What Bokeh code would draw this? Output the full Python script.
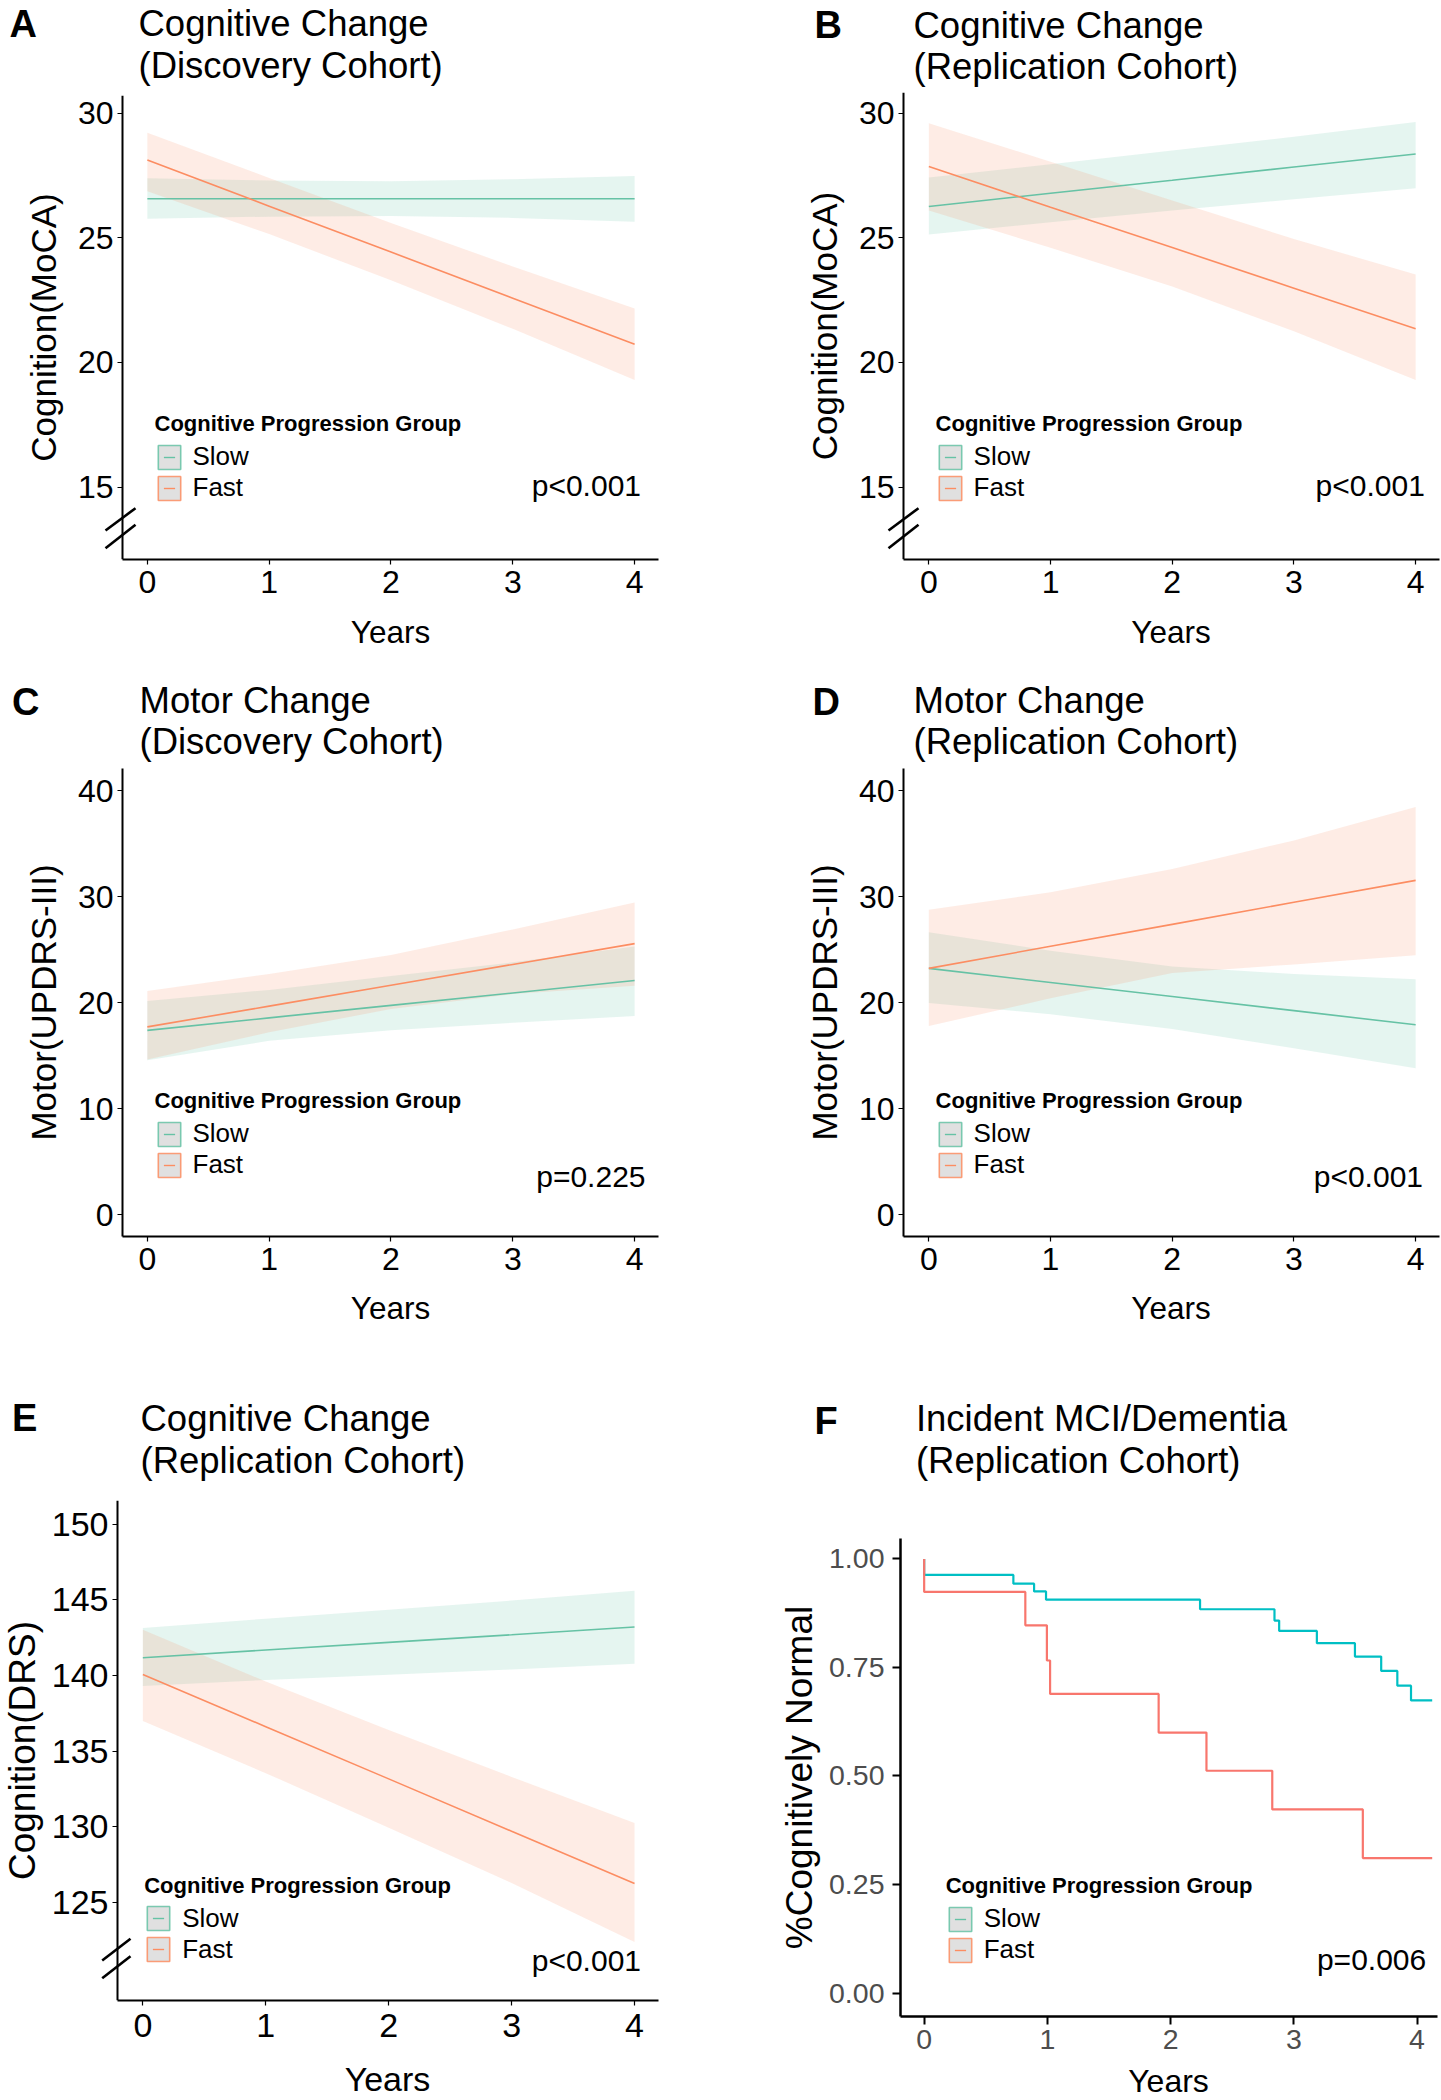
import math
from bokeh.plotting import figure
from bokeh.models import (Range1d, FixedTicker, Label, Legend, LegendItem, Arrow,
                          NumeralTickFormatter)
from bokeh.layouts import row, column
from bokeh.embed import file_html
from bokeh.resources import INLINE

FONT = "Liberation Sans"
SLOW = "#66C2A5"
FAST = "#FC8D62"
KM_SLOW = "#00BFC4"
KM_FAST = "#F8766D"
NAN = float("nan")

# ---------------- data ----------------
years = [0, 1, 2, 3, 4]
x_ticks = [0, 1, 2, 3, 4]
groups = ["Slow", "Fast"]

# A: MoCA, discovery
A_slow = [26.57, 26.57, 26.57, 26.57, 26.57]
A_slow_lo = [25.77, 25.85, 25.88, 25.80, 25.65]
A_slow_hi = [27.39, 27.30, 27.27, 27.35, 27.48]
A_fast = [28.12, 26.27, 24.43, 22.58, 20.73]
A_fast_lo = [26.87, 25.15, 23.30, 21.35, 19.30]
A_fast_hi = [29.22, 27.40, 25.60, 23.85, 22.17]

# B: MoCA, replication
B_slow = [26.26, 26.79, 27.31, 27.84, 28.36]
B_slow_lo = [25.13, 25.63, 26.10, 26.55, 26.99]
B_slow_hi = [27.42, 27.95, 28.50, 29.05, 29.65]
B_fast = [27.86, 26.23, 24.61, 22.98, 21.35]
B_fast_lo = [26.10, 24.60, 23.05, 21.25, 19.30]
B_fast_hi = [29.60, 28.05, 26.50, 24.95, 23.53]

# C: UPDRS-III, discovery
C_slow = [17.38, 18.56, 19.74, 20.91, 22.09]
C_slow_lo = [14.56, 16.40, 17.40, 18.10, 18.73]
C_slow_hi = [20.16, 21.20, 22.50, 23.80, 25.28]
C_fast = [17.71, 19.67, 21.64, 23.60, 25.56]
C_fast_lo = [14.64, 17.20, 19.40, 20.80, 21.60]
C_fast_hi = [21.10, 22.70, 24.50, 26.90, 29.45]

# D: UPDRS-III, replication
D_slow = [23.23, 21.90, 20.57, 19.24, 17.91]
D_slow_lo = [19.96, 18.90, 17.50, 15.70, 13.82]
D_slow_hi = [26.63, 24.90, 23.40, 22.70, 22.21]
D_fast = [23.23, 25.31, 27.38, 29.46, 31.53]
D_fast_lo = [17.79, 20.40, 22.80, 23.60, 24.46]
D_fast_hi = [28.75, 30.40, 32.60, 35.30, 38.45]

# E: DRS, replication
E_slow = [141.17, 141.68, 142.19, 142.69, 143.20]
E_slow_lo = [139.30, 139.70, 140.05, 140.40, 140.77]
E_slow_hi = [143.14, 143.75, 144.35, 144.95, 145.60]
E_fast = [140.07, 136.62, 133.17, 129.71, 126.26]
E_fast_lo = [137.00, 133.55, 129.95, 126.30, 122.39]
E_fast_hi = [143.02, 139.60, 136.40, 133.30, 130.26]

# F: Kaplan-Meier, incident MCI/dementia
F_slow_t = [0.0, 0.0, 0.724, 0.892, 0.989, 2.239, 2.843, 2.881, 3.187, 3.496, 3.709, 3.840, 3.951, 4.123]
F_slow_s = [1.0, 0.963, 0.943, 0.925, 0.906, 0.884, 0.858, 0.834, 0.806, 0.775, 0.742, 0.708, 0.674, 0.674]
F_fast_t = [0.0, 0.0, 0.821, 0.996, 1.022, 1.903, 2.291, 2.825, 3.560, 4.123]
F_fast_s = [1.0, 0.924, 0.847, 0.766, 0.689, 0.600, 0.512, 0.423, 0.311, 0.311]

yticks_moca = [15, 20, 25, 30]
yticks_updrs = [0, 10, 20, 30, 40]
yticks_drs = [125, 130, 135, 140, 145, 150]
yticks_km = [0, 0.25, 0.5, 0.75, 1.0]


# ---------------- helpers ----------------
def make_fig(ox, oy, w, h, L, R, T, B, xr, yr, yticks, tick_fs, ylabel, ylabel_fs, ylabel_sd,
             tick_color="black", tick_out=5, tick_w=1.2, axis_w=2.0,
             x_standoff=6, y_standoff=4, yfmt=None, yaxis_at=None):
    p = figure(width=w, height=h, x_range=Range1d(*xr), y_range=Range1d(*yr),
               output_backend="svg", toolbar_location=None, title=None,
               min_border_left=L - ox, min_border_right=ox + w - R,
               min_border_top=T - oy, min_border_bottom=oy + h - B)
    p.outline_line_color = None
    p.xgrid.visible = False
    p.ygrid.visible = False
    p.background_fill_color = "white"
    p.border_fill_color = "white"
    p.xaxis.ticker = FixedTicker(ticks=x_ticks)
    p.yaxis.ticker = FixedTicker(ticks=yticks)
    if yfmt is not None:
        p.yaxis.formatter = yfmt
    if yaxis_at is not None:
        p.yaxis.fixed_location = yaxis_at
        p.xaxis.bounds = (yaxis_at, xr[1])
    for ax in (p.xaxis[0], p.yaxis[0]):
        ax.axis_line_width = axis_w
        ax.axis_line_color = "black"
        ax.major_tick_line_color = "black"
        ax.major_tick_line_width = tick_w
        ax.major_tick_out = tick_out
        ax.major_tick_in = 0
        ax.minor_tick_line_color = None
        ax.major_label_text_font = FONT
        ax.major_label_text_font_size = f"{tick_fs}px"
        ax.major_label_text_color = tick_color
        ax.axis_label_text_font = FONT
        ax.axis_label_text_font_style = "normal"
        ax.axis_label_text_color = "black"
    p.xaxis.major_label_standoff = x_standoff
    p.yaxis.major_label_standoff = y_standoff
    p.yaxis.axis_label = ylabel
    p.yaxis.axis_label_text_font_size = f"{ylabel_fs}px"
    p.yaxis.axis_label_standoff = ylabel_sd
    return p


def strip(ox, oy, w, h, items):
    """A bare strip of the page that carries panel letters, titles or axis titles."""
    hf = figure(width=w, height=h, x_range=Range1d(0, w), y_range=Range1d(0, h),
                x_axis_type=None, y_axis_type=None, output_backend="svg",
                toolbar_location=None, title=None, min_border=0)
    hf.outline_line_color = None
    hf.grid.visible = False
    hf.background_fill_color = "white"
    hf.border_fill_color = "white"
    for (rx, ry, text, size, style, align) in items:
        hf.add_layout(Label(x=rx - ox, y=oy + h - ry, x_units="screen", y_units="screen",
                            text=text, text_font=FONT, text_font_size=f"{size}px",
                            text_font_style=style, text_align=align,
                            text_baseline="middle", text_color="black"))
    return hf


def txt(p, L, B, rx, ry, text, size, align="left"):
    p.add_layout(Label(x=rx - L, y=B - ry, x_units="screen", y_units="screen", text=text,
                       text_font=FONT, text_font_size=f"{size}px", text_align=align,
                       text_baseline="middle", text_color="black"))


def axis_break(p, L, B, segs):
    for (x0, y0, x1, y1) in segs:
        p.add_layout(Arrow(end=None, x_start=x0 - L, y_start=B - y0, x_end=x1 - L, y_end=B - y1,
                           start_units="screen", end_units="screen",
                           line_width=2.6, line_color="black"))


def add_legend(p, lx, ly):
    items = []
    for lab, col in zip(groups, (SLOW, FAST)):
        box = p.rect(x=[NAN], y=[NAN], width=1, height=1, fill_color="#E0E0E0",
                     line_color=col, line_width=1.6, line_alpha=0.85)
        dash = p.scatter(x=[NAN], y=[NAN], marker="dash", line_color=col, line_width=1.4)
        items.append(LegendItem(label=lab, renderers=[box, dash]))
    leg = Legend(items=items, location=(lx, ly), title="Cognitive Progression Group",
                 title_text_font=FONT, title_text_font_style="bold", title_text_color="black",
                 title_text_font_size="22px", title_standoff=4,
                 label_text_font=FONT, label_text_font_size="26px", label_text_color="black",
                 glyph_width=28, glyph_height=30, spacing=0, padding=0, margin=0,
                 label_standoff=10, border_line_color=None, background_fill_alpha=0)
    p.add_layout(leg)


def trend(p, lo_s, hi_s, v_s, lo_f, hi_f, v_f):
    p.varea(x=years, y1=lo_s, y2=hi_s, fill_color=SLOW, fill_alpha=0.17)
    p.varea(x=years, y1=lo_f, y2=hi_f, fill_color=FAST, fill_alpha=0.17)
    p.line(years, v_s, line_color=SLOW, line_width=1.6)
    p.line(years, v_f, line_color=FAST, line_width=1.6)


def heading(ox, oy, w, h, letter, lx, ly, tx, t1, t1y, t2, t2y):
    return strip(ox, oy, w, h, [(lx, ly, letter, 38, "bold", "left"),
                                (tx, t1y, t1, 36.5, "normal", "left"),
                                (tx, t2y, t2, 36.5, "normal", "left")])


def stack(*items):
    # every child wrapped on its own, so that frames are not aligned with each other
    return column(*[column(it) for it in items])


# ---------------- headings ----------------
hA = heading(0, 0, 720, 88, "A", 9, 23, 138, "Cognitive Change", 23.2, "(Discovery Cohort)", 65)
hB = heading(720, 0, 720, 88, "B", 814, 24, 913, "Cognitive Change", 24.5, "(Replication Cohort)", 66)
hC = heading(0, 665, 720, 97, "C", 11.5, 701, 139, "Motor Change", 700, "(Discovery Cohort)", 741)
hD = heading(720, 665, 720, 97, "D", 812, 701, 913, "Motor Change", 700, "(Replication Cohort)", 741)
hE = heading(0, 1362, 720, 126, "E", 11.5, 1417.7, 140, "Cognitive Change", 1417.7,
             "(Replication Cohort)", 1459.6)
hF = heading(720, 1362, 720, 126, "F", 814, 1420, 915.4, "Incident MCI/Dementia", 1417.7,
             "(Replication Cohort)", 1459.6)

# ---------------- x-axis titles ----------------
fA = strip(0, 608, 720, 57, [(390, 631, "Years", 31.5, "normal", "center")])
fB = strip(720, 608, 720, 57, [(1170.5, 631, "Years", 31.5, "normal", "center")])
fC = strip(0, 1285, 720, 77, [(390, 1307, "Years", 31.5, "normal", "center")])
fD = strip(720, 1285, 720, 77, [(1170.5, 1307, "Years", 31.5, "normal", "center")])
fE = strip(0, 2058, 720, 40, [(387, 2078, "Years", 34, "normal", "center")])
fF = strip(720, 2062, 720, 36, [(1168, 2080, "Years", 32, "normal", "center")])

# ---------------- A ----------------
L, R, T, B = 0, 658, 95, 559
pA = make_fig(0, 88, 720, 520, L, R, T, B, (-1.2056, 4.196), (12.096, 30.71), yticks_moca, 32,
              "Cognition(MoCA)", 35, 12, yaxis_at=-0.204)
trend(pA, A_slow_lo, A_slow_hi, A_slow, A_fast_lo, A_fast_hi, A_fast)
txt(pA, L, B, 640.5, 485, "p<0.001", 30, align="right")
axis_break(pA, L, B, [(105, 530, 135, 507.7), (105, 547.7, 135, 524.3)])
add_legend(pA, 154.5 - L, 56)

# ---------------- B ----------------
L, R, T, B = 720, 1439, 92, 559
pB = make_fig(720, 88, 720, 520, L, R, T, B, (-1.7117, 4.196), (12.096, 30.83), yticks_moca, 32,
              "Cognition(MoCA)", 35, 12, yaxis_at=-0.208)
trend(pB, B_slow_lo, B_slow_hi, B_slow, B_fast_lo, B_fast_hi, B_fast)
txt(pB, L, B, 1424.4, 485, "p<0.001", 30, align="right")
axis_break(pB, L, B, [(888, 530, 918, 507.7), (888, 547.7, 918, 524.3)])
add_legend(pB, 935.6 - L, 56)

# ---------------- C ----------------
L, R, T, B = 122, 658, 768, 1236
pC = make_fig(0, 762, 720, 523, L, R, T, B, (-0.204, 4.196), (-2.06, 42.08), yticks_updrs, 32,
              "Motor(UPDRS-III)", 35, 12)
trend(pC, C_slow_lo, C_slow_hi, C_slow, C_fast_lo, C_fast_hi, C_fast)
txt(pC, L, B, 645, 1176, "p=0.225", 30, align="right")
add_legend(pC, 154.5 - L, 56)

# ---------------- D ----------------
L, R, T, B = 903, 1439, 768, 1236
pD = make_fig(720, 762, 720, 523, L, R, T, B, (-0.208, 4.196), (-2.06, 42.08), yticks_updrs, 32,
              "Motor(UPDRS-III)", 35, 12)
trend(pD, D_slow_lo, D_slow_hi, D_slow, D_fast_lo, D_fast_hi, D_fast)
txt(pD, L, B, 1422.5, 1176, "p<0.001", 30, align="right")
add_legend(pD, 935.6 - L, 56)

# ---------------- E ----------------
L, R, T, B = 0, 658, 1500, 2000
pE = make_fig(0, 1488, 720, 570, L, R, T, B, (-1.158, 4.195), (118.53, 151.56), yticks_drs, 34,
              "Cognition(DRS)", 37, 6, x_standoff=8, yaxis_at=-0.206)
trend(pE, E_slow_lo, E_slow_hi, E_slow, E_fast_lo, E_fast_hi, E_fast)
txt(pE, L, B, 640.5, 1960, "p<0.001", 30, align="right")
axis_break(pE, L, B, [(101.7, 1960, 130, 1938.3), (101.7, 1977.7, 130, 1955.7)])
add_legend(pE, 144.2 - L, 35.5)

# ---------------- F ----------------
L, R, T, B = 900, 1437, 1538, 2016
pF = make_fig(720, 1488, 720, 574, L, R, T, B, (-0.192, 4.166), (-0.054, 1.047), yticks_km, 28.5,
              "%Cognitively Normal", 37, 6,
              tick_color="#4D4D4D", tick_out=8, tick_w=2, axis_w=2.5, x_standoff=5, y_standoff=8,
              yfmt=NumeralTickFormatter(format="0.00"))
pF.step(F_slow_t, F_slow_s, mode="after", line_color=KM_SLOW, line_width=2.2)
pF.step(F_fast_t, F_fast_s, mode="after", line_color=KM_FAST, line_width=2.2)
txt(pF, L, B, 1425.7, 1959, "p=0.006", 30, align="right")
add_legend(pF, 945.7 - L, 51)

layout = column(row(hA, hB), row(column(pA), column(pB)), row(fA, fB),
                row(hC, hD), row(column(pC), column(pD)), row(fC, fD),
                row(stack(hE, pE, fE), stack(hF, pF, fF)))

open("out.html", "w").write(file_html(layout, INLINE))
